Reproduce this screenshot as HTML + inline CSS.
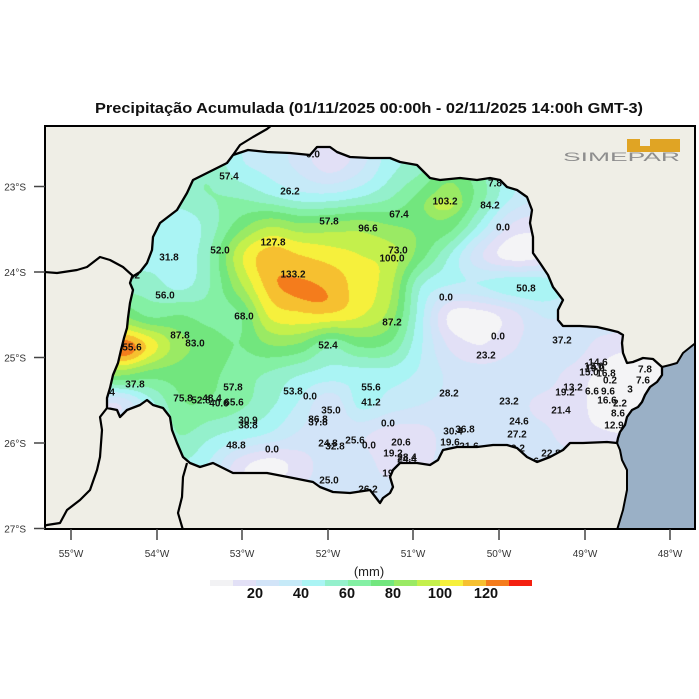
<!DOCTYPE html>
<html><head><meta charset="utf-8"><style>
html,body{margin:0;padding:0;background:#fff}
#w{position:relative;width:699px;height:699px;overflow:hidden;background:#fff}
canvas,svg{position:absolute;left:0;top:0}
</style></head><body><div id="w">
<canvas id="c" width="699" height="699"></canvas>
<svg width="699" height="699" viewBox="0 0 699 699" xmlns="http://www.w3.org/2000/svg" font-family="Liberation Sans, Arial, sans-serif">
<defs>
<clipPath id="fr"><rect x="45" y="126" width="650" height="403"/></clipPath>
<clipPath id="st"><polygon id="stpoly" points="233,155 248,150 267,152 290,153 310,155 317,147 330,147 337,152 350,157 370,158 390,158 400,162 417,165 430,178 440,180 460,178 477,180 490,178 500,180 507,187 517,190 527,197 532,210 530,223 533,237 533,253 540,263 548,275 553,287 563,300 558,310 558,320 563,326 580,326 597,327 610,330 618,332 623,335 622,343 623,353 627,363 633,362 643,358 653,359 662,367 662,375 657,382 650,387 645,395 642,402 638,407 632,410 627,417 625,425 620,432 618,438 617,443 607,442 583,443 570,443 563,450 550,457 537,462 527,457 517,448 507,445 493,445 477,447 457,447 443,450 438,460 430,465 417,463 400,463 393,470 390,477 393,487 390,493 383,498 380,503 370,490 350,493 333,492 320,487 313,482 293,478 267,473 233,473 213,463 200,467 190,463 183,457 177,443 172,430 170,417 163,408 153,405 147,400 140,405 127,410 120,417 117,410 107,408 107,398 110,388 113,375 118,363 121,350 124,338 127,328 128,318 130,303 133,290 130,283 132,277 140,272 147,263 152,250 153,237 160,223 177,210 187,193 193,180 207,173 227,163"/></clipPath>
</defs>

<text x="369" y="113" font-size="14.5" font-weight="bold" text-anchor="middle" textLength="548" lengthAdjust="spacingAndGlyphs" fill="#111">Precipitação Acumulada (01/11/2025 00:00h - 02/11/2025 14:00h GMT-3)</text>

<g clip-path="url(#st)" font-size="10" font-weight="bold" fill="#111" text-anchor="middle">
<text x="313" y="157.5">0.0</text>
<text x="229" y="179.5">57.4</text>
<text x="290" y="194.5">26.2</text>
<text x="329" y="224.5">57.8</text>
<text x="368" y="231.5">96.6</text>
<text x="399" y="217.5">67.4</text>
<text x="445" y="204.5">103.2</text>
<text x="490" y="208.5">84.2</text>
<text x="495" y="186.5">7.8</text>
<text x="503" y="230.5">0.0</text>
<text x="273" y="245.5">127.8</text>
<text x="220" y="253.5">52.0</text>
<text x="169" y="260.5">31.8</text>
<text x="398" y="253.5">73.0</text>
<text x="392" y="261.5">100.0</text>
<text x="293" y="277.5">133.2</text>
<text x="133" y="278.5">1.2</text>
<text x="165" y="298.5">56.0</text>
<text x="446" y="300.5">0.0</text>
<text x="526" y="291.5">50.8</text>
<text x="244" y="319.5">68.0</text>
<text x="392" y="325.5">87.2</text>
<text x="180" y="338.5">87.8</text>
<text x="195" y="346.5">83.0</text>
<text x="132" y="350.5">55.6</text>
<text x="328" y="348.5">52.4</text>
<text x="498" y="339.5">0.0</text>
<text x="486" y="358.5">23.2</text>
<text x="562" y="343.5">37.2</text>
<text x="135" y="387.5">37.8</text>
<text x="108" y="395.5">2.4</text>
<text x="233" y="390.5">57.8</text>
<text x="293" y="394.5">53.8</text>
<text x="310" y="399.5">0.0</text>
<text x="371" y="390.5">55.6</text>
<text x="371" y="405.5">41.2</text>
<text x="449" y="396.5">28.2</text>
<text x="509" y="404.5">23.2</text>
<text x="183" y="401.5">75.8</text>
<text x="201" y="403.5">52.8</text>
<text x="212" y="401.5">48.4</text>
<text x="219" y="406.5">40.6</text>
<text x="234" y="405.5">65.6</text>
<text x="331" y="413.5">35.0</text>
<text x="248" y="423.5">30.9</text>
<text x="248" y="428.5">38.8</text>
<text x="318" y="422.5">86.8</text>
<text x="318" y="425.5">37.8</text>
<text x="388" y="426.5">0.0</text>
<text x="236" y="448.5">48.8</text>
<text x="272" y="452.5">0.0</text>
<text x="328" y="446.5">24.8</text>
<text x="335" y="449.5">32.8</text>
<text x="355" y="443.5">25.6</text>
<text x="369" y="448.5">0.0</text>
<text x="401" y="445.5">20.6</text>
<text x="393" y="456.5">19.2</text>
<text x="407" y="460.5">28.4</text>
<text x="407" y="462.5">24.4</text>
<text x="392" y="476.5">19.2</text>
<text x="329" y="483.5">25.0</text>
<text x="368" y="492.5">26.2</text>
<text x="453" y="434.5">30.4</text>
<text x="465" y="432.5">36.8</text>
<text x="450" y="445.5">19.6</text>
<text x="469" y="449.5">21.6</text>
<text x="519" y="424.5">24.6</text>
<text x="517" y="437.5">27.2</text>
<text x="518" y="451.5">9.2</text>
<text x="551" y="456.5">22.8</text>
<text x="532" y="464.5">6.6</text>
<text x="598" y="365.5">14.6</text>
<text x="594" y="369.5">13.0</text>
<text x="595" y="371.5">19.0</text>
<text x="589" y="375.5">15.0</text>
<text x="606" y="376.5">16.8</text>
<text x="610" y="383.5">0.2</text>
<text x="573" y="390.5">13.2</text>
<text x="565" y="395.5">19.2</text>
<text x="592" y="394.5">6.6</text>
<text x="608" y="394.5">9.6</text>
<text x="607" y="403.5">16.6</text>
<text x="620" y="406.5">2.2</text>
<text x="561" y="413.5">21.4</text>
<text x="618" y="416.5">8.6</text>
<text x="614" y="428.5">12.9</text>
<text x="645" y="372.5">7.8</text>
<text x="643" y="383.5">7.6</text>
<text x="630" y="392.5">3</text>
</g>

<g clip-path="url(#fr)" fill="none" stroke="#000" stroke-linejoin="round">
<polygon points="233,155 248,150 267,152 290,153 310,155 317,147 330,147 337,152 350,157 370,158 390,158 400,162 417,165 430,178 440,180 460,178 477,180 490,178 500,180 507,187 517,190 527,197 532,210 530,223 533,237 533,253 540,263 548,275 553,287 563,300 558,310 558,320 563,326 580,326 597,327 610,330 618,332 623,335 622,343 623,353 627,363 633,362 643,358 653,359 662,367 662,375 657,382 650,387 645,395 642,402 638,407 632,410 627,417 625,425 620,432 618,438 617,443 607,442 583,443 570,443 563,450 550,457 537,462 527,457 517,448 507,445 493,445 477,447 457,447 443,450 438,460 430,465 417,463 400,463 393,470 390,477 393,487 390,493 383,498 380,503 370,490 350,493 333,492 320,487 313,482 293,478 267,473 233,473 213,463 200,467 190,463 183,457 177,443 172,430 170,417 163,408 153,405 147,400 140,405 127,410 120,417 117,410 107,408 107,398 110,388 113,375 118,363 121,350 124,338 127,328 128,318 130,303 133,290 130,283 132,277 140,272 147,263 152,250 153,237 160,223 177,210 187,193 193,180 207,173 227,163" stroke-width="2.3"/>
<polyline points="233,155 240,145 253,137 267,129 272,125" stroke-width="2.2"/>
<polyline points="44,272 57,273 77,270 87,267 100,257 110,260 123,267 133,276" stroke-width="2.2"/>
<polyline points="107,408 100,417 102,430 100,457 97,470 90,490 80,500 67,510 60,523 47,525 44,526" stroke-width="2.2"/>
<polyline points="187,463 185,470 183,477 182,497 178,513 183,530" stroke-width="2.2"/>
<polyline points="662,367 670,365 677,363 683,353 693,345 697,342" stroke-width="2"/>
<polyline points="617,443 620,450 622,460 627,470 627,490 623,510 617,530" stroke-width="2"/>
</g>
<rect x="45" y="126" width="650" height="403" fill="none" stroke="#000" stroke-width="2"/>

<path d="M627,139 H640 V146 H650 V139 H680 V152 H627 Z" fill="#e0a424"/>
<text x="563" y="161" font-size="12" fill="#8e8e8e" textLength="117" lengthAdjust="spacingAndGlyphs">SIMEPAR</text>

<g stroke="#444" stroke-width="1.5">
<line x1="34" y1="186.5" x2="45" y2="186.5"/><line x1="34" y1="272" x2="45" y2="272"/><line x1="34" y1="357.5" x2="45" y2="357.5"/><line x1="34" y1="443" x2="45" y2="443"/><line x1="34" y1="528.5" x2="45" y2="528.5"/>
<line x1="71" y1="529" x2="71" y2="540"/><line x1="157" y1="529" x2="157" y2="540"/><line x1="242" y1="529" x2="242" y2="540"/><line x1="328" y1="529" x2="328" y2="540"/><line x1="413" y1="529" x2="413" y2="540"/><line x1="499" y1="529" x2="499" y2="540"/><line x1="585" y1="529" x2="585" y2="540"/><line x1="670" y1="529" x2="670" y2="540"/>
</g>
<g font-size="10" fill="#333" text-anchor="end">
<text x="26" y="190.5">23°S</text><text x="26" y="276">24°S</text><text x="26" y="361.5">25°S</text><text x="26" y="447">26°S</text><text x="26" y="532.5">27°S</text>
</g>
<g font-size="10" fill="#333" text-anchor="middle">
<text x="71" y="557">55°W</text><text x="157" y="557">54°W</text><text x="242" y="557">53°W</text><text x="328" y="557">52°W</text><text x="413" y="557">51°W</text><text x="499" y="557">50°W</text><text x="585" y="557">49°W</text><text x="670" y="557">48°W</text>
</g>

<text x="369" y="576" font-size="13" fill="#222" text-anchor="middle">(mm)</text>
<g>
<rect x="210" y="580" width="23" height="6" fill="#f2f2f4"/>
<rect x="233" y="580" width="23" height="6" fill="#e2e0f6"/>
<rect x="256" y="580" width="23" height="6" fill="#d2e4f8"/>
<rect x="279" y="580" width="23" height="6" fill="#c6eaf8"/>
<rect x="302" y="580" width="23" height="6" fill="#aaf4f4"/>
<rect x="325" y="580" width="23" height="6" fill="#94f0cc"/>
<rect x="348" y="580" width="23" height="6" fill="#84f0a4"/>
<rect x="371" y="580" width="23" height="6" fill="#72e67e"/>
<rect x="394" y="580" width="23" height="6" fill="#9aea64"/>
<rect x="417" y="580" width="23" height="6" fill="#c4f04c"/>
<rect x="440" y="580" width="23" height="6" fill="#f6f03c"/>
<rect x="463" y="580" width="23" height="6" fill="#f6c030"/>
<rect x="486" y="580" width="23" height="6" fill="#f47c1c"/>
<rect x="509" y="580" width="23" height="6" fill="#f42010"/>
</g>
<g font-size="14.5" font-weight="bold" fill="#111" text-anchor="middle">
<text x="255" y="598">20</text><text x="301" y="598">40</text><text x="347" y="598">60</text><text x="393" y="598">80</text><text x="440" y="598">100</text><text x="486" y="598">120</text>
</g>
</svg>
</div>
<script>
(function(){
var cv=document.getElementById('c'),ctx=cv.getContext('2d');
ctx.fillStyle='#efeee6';ctx.fillRect(45,126,650,403);
ctx.save();ctx.beginPath();ctx.rect(45,126,650,403);ctx.clip();
var oc=[[697,342],[693,345],[683,353],[677,363],[670,365],[662,367],[662,375],[657,382],[650,387],[645,395],[642,402],[638,407],[632,410],[627,417],[625,425],[620,432],[618,438],[617,443],[620,450],[622,460],[627,470],[627,490],[623,510],[617,530],[697,530]];
ctx.beginPath();ctx.moveTo(oc[0][0],oc[0][1]);for(var i=1;i<oc.length;i++)ctx.lineTo(oc[i][0],oc[i][1]);ctx.closePath();ctx.fillStyle='#9ab0c6';ctx.fill();
ctx.restore();
var G=[
[55,55,55,55,55,42,36,27,12,27,46,56,70,60,40,30,30,30,30,30],
[55,55,55,55,58,42,36,27,15,27,46,56,72,60,40,30,30,30,30,30],
[50,50,50,56,60,58,50,43,42,48,58,72,84,65,42,30,30,30,30,30],
[45,45,45,42,55,75,88,82,83,85,80,78,75,48,20,15,25,30,30,30],
[45,45,45,42,60,97,115,110,105,100,95,75,50,22,5,8,25,30,30,30],
[55,55,55,47,60,88,114,118,116,105,93,52,40,40,47,47,40,30,30,30],
[80,80,68,70,66,70,102,108,108,101,86,45,8,6,15,30,30,30,30,30],
[112,112,104,84,75,70,80,78,62,72,68,42,18,10,18,25,28,16,12,12],
[80,80,74,74,72,65,58,50,45,45,45,38,28,25,25,25,17,8,5,5],
[20,20,45,68,68,62,52,38,22,42,35,30,27,25,24,18,16,6,6,6],
[45,45,45,60,52,45,38,28,25,22,15,16,24,25,25,23,16,12,10,10],
[50,50,50,50,38,14,5,15,25,25,16,17,25,25,25,25,25,25,25,25],
[40,40,40,40,30,15,15,22,25,25,25,25,25,25,25,25,25,25,25,25],
[40,40,40,40,30,15,15,22,25,25,25,25,25,25,25,25,25,25,25,25]];
var B=[[304,291,25,9,0.32,10],[124,350,19,15,0,17],[443,205,17,8,0,12]];
var NR=G.length,NC=G[0].length,X0=90,Y0=135,D=30;
function g(r,c){r=r<0?0:(r>NR-1?NR-1:r);c=c<0?0:(c>NC-1?NC-1:c);return G[r][c];}
function cr(a,b,c,d,t){return b+0.5*t*((c-a)+t*((2*a-5*b+4*c-d)+t*(3*(b-c)+d-a)));}
function val(x,y){var fx=(x-X0)/D,fy=(y-Y0)/D,i=Math.floor(fx),j=Math.floor(fy),tx=fx-i,ty=fy-j,r=[];
for(var k=-1;k<=2;k++)r.push(cr(g(j+k,i-1),g(j+k,i),g(j+k,i+1),g(j+k,i+2),tx));
var v=cr(r[0],r[1],r[2],r[3],ty);
for(var m=0;m<B.length;m++){var b=B[m],dx=x-b[0],dy=y-b[1],c=Math.cos(b[4]),s=Math.sin(b[4]);var u=(dx*c+dy*s)/b[2],w=(-dx*s+dy*c)/b[3];v+=b[5]*Math.exp(-(u*u+w*w));}
return v;}
var cols=['#f4f4f6','#e2e0f6','#d2e4f8','#c6eaf8','#aaf4f4','#94f0cc','#84f0a4','#72e67e','#9aea64','#c4f04c','#f6f03c','#f6c030','#f47c1c','#f42010'];
var rgb=cols.map(function(h){return [parseInt(h.substr(1,2),16),parseInt(h.substr(3,2),16),parseInt(h.substr(5,2),16)];});
var bx=95,by=135,bw=580,bh=380;
var off=document.createElement('canvas');off.width=bw;off.height=bh;
var oc2=off.getContext('2d');var im=oc2.createImageData(bw,bh);var d=im.data;
for(var y=0;y<bh;y++){for(var x=0;x<bw;x++){var v=val(bx+x+0.5,by+y+0.5);var b=Math.floor(v/10);if(b<0)b=0;if(b>13)b=13;var p=(y*bw+x)*4;d[p]=rgb[b][0];d[p+1]=rgb[b][1];d[p+2]=rgb[b][2];d[p+3]=255;}}
oc2.putImageData(im,0,0);
var pts=document.getElementById('stpoly').getAttribute('points').trim().split(/\s+/).map(function(s){return s.split(',').map(Number);});
ctx.save();ctx.beginPath();ctx.moveTo(pts[0][0],pts[0][1]);for(var i=1;i<pts.length;i++)ctx.lineTo(pts[i][0],pts[i][1]);ctx.closePath();ctx.clip();
ctx.drawImage(off,bx,by);ctx.restore();
})();
</script>
</body></html>
